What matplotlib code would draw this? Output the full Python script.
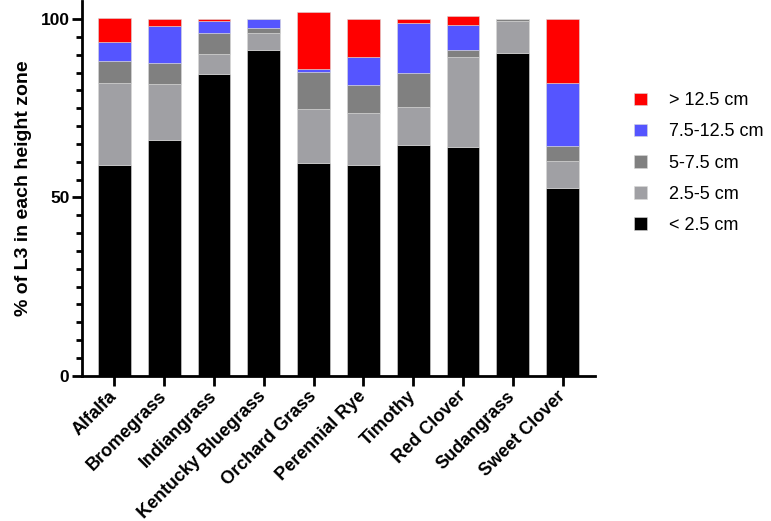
import matplotlib.pyplot as plt
import numpy as np

plt.rcParams['font.family'] = ['Liberation Sans', 'DejaVu Sans']

crops = ['Alfalfa', 'Bromegrass', 'Indiangrass', 'Kentucky Bluegrass', 'Orchard Grass',
         'Perennial Rye', 'Timothy', 'Red Clover', 'Sudangrass', 'Sweet Clover']

# stacked from bottom up
lt_2_5 = [59.0, 66.0, 84.6, 91.4, 59.5, 59.1, 64.6, 64.0, 90.4, 52.5]
z_2_5_5 = [23.2, 15.8, 5.5, 4.8, 15.3, 14.6, 10.7, 25.3, 9.0, 7.8]
z_5_7_5 = [5.9, 5.9, 6.0, 1.4, 10.4, 7.8, 9.6, 1.9, 0.5, 4.1]
z_7_5_12_5 = [5.5, 10.4, 3.3, 2.3, 0.8, 7.8, 13.9, 7.1, 0.0, 17.7]
gt_12_5 = [6.8, 1.8, 0.5, 0.0, 16.0, 10.6, 1.1, 2.5, 0.0, 17.8]

series = [
    (lt_2_5, '< 2.5 cm', '#000000'),
    (z_2_5_5, '2.5-5 cm', '#a0a0a4'),
    (z_5_7_5, '5-7.5 cm', '#808080'),
    (z_7_5_12_5, '7.5-12.5 cm', '#5555ff'),
    (gt_12_5, '> 12.5 cm', '#ff0000'),
]

fig = plt.figure(figsize=(7.71, 5.21), dpi=100)
ax = fig.add_axes([82 / 771, 1 - 375.7 / 521, 513 / 771, 374.5 / 521])

x = np.arange(len(crops))
bottom = np.zeros(len(crops))
handles = []
for vals, label, color in series:
    b = ax.bar(x, vals, bottom=bottom, width=0.66, color=color,
               edgecolor='#d8d8d8', linewidth=0.4, label=label)
    handles.append(b)
    bottom += np.array(vals)

ax.set_xlim(-0.65, 9.65)
ax.set_ylim(0, 105)
ax.set_yticks([0, 50, 100])
ax.set_yticks(np.arange(0, 105, 5), minor=True)
ax.set_xticks(x)
ax.set_xticklabels(crops, rotation=45, ha='right', va='center', rotation_mode='anchor',
                   fontsize=13, fontweight='bold')
for t in ax.get_yticklabels():
    t.set_fontsize(12.5)
    t.set_fontweight('bold')

ax.spines['top'].set_visible(False)
ax.spines['right'].set_visible(False)
ax.spines['left'].set_linewidth(2)
ax.spines['bottom'].set_linewidth(2)
ax.tick_params(axis='y', which='major', length=7, width=2, pad=2)
ax.tick_params(axis='y', which='minor', length=4, width=2)
ax.tick_params(axis='x', which='major', length=7, width=2, pad=6)

ax.set_ylabel('% of L3 in each height zone', fontsize=14, fontweight='bold', labelpad=6)

ax.legend(handles[::-1], [s[1] for s in series][::-1], loc='upper left',
          bbox_to_anchor=(1.045, 0.8), frameon=False, fontsize=13,
          handlelength=0.7, handleheight=0.7, labelspacing=0.78, handletextpad=1.2)

plt.savefig('out.png', dpi=100)
